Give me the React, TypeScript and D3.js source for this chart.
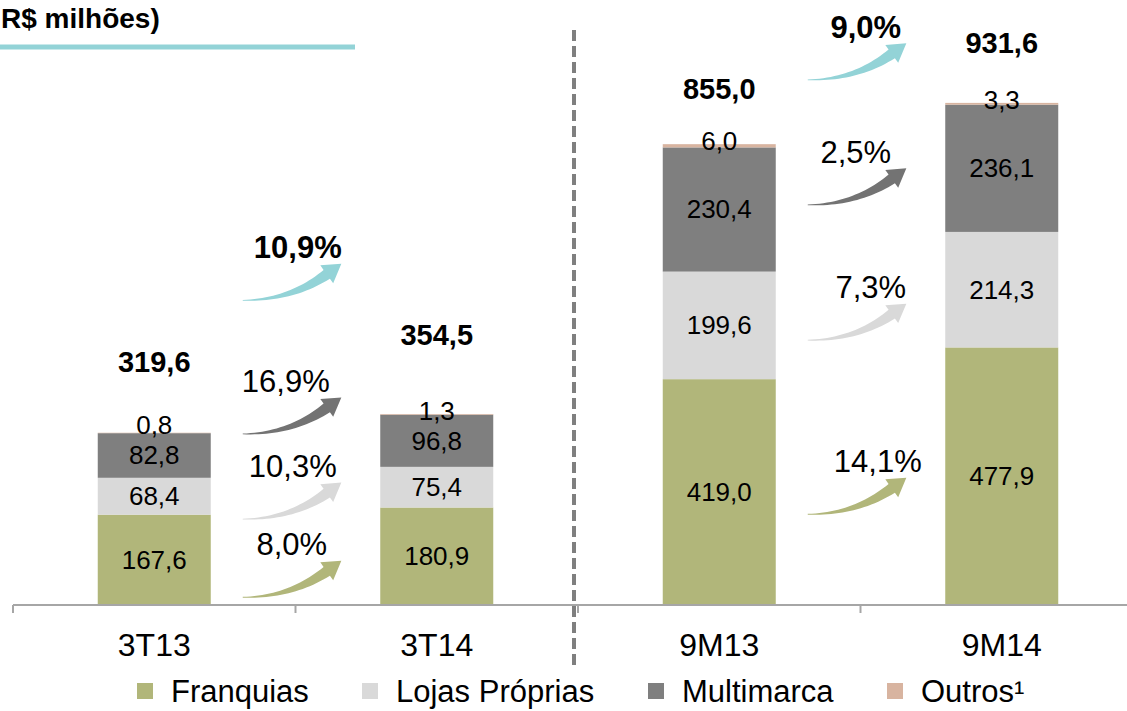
import React from "react";
import * as d3 from "d3";

// data
const categories = ["3T13", "3T14", "9M13", "9M14"];
const franquias = [167.6, 180.9, 419.0, 477.9];
const lojasProprias = [68.4, 75.4, 199.6, 214.3];
const multimarca = [82.8, 96.8, 230.4, 236.1];
const outros = [0.8, 1.3, 6.0, 3.3];
const totalLabels = ["319,6", "354,5", "855,0", "931,6"];
const totalLabelAt = [432, 482, 939, 1024];

const seriesNames = ["Franquias", "Lojas Próprias", "Multimarca", "Outros¹"];
const seriesColors = ["#b1b67a", "#d9d9d9", "#7f7f7f", "#d8b4a0"];
const teal = "#93d3d7";

// growth arrows: order franquias, lojas, multimarca, total
const growthLeft = ["8,0%", "10,3%", "16,9%", "10,9%"];
const growthRight = ["14,1%", "7,3%", "2,5%", "9,0%"];
const growthLeftAt = [83, 228, 386, 634];
const growthRightAt = [237, 560, 811, 1043];
const growthLeftDx = [49, 50, 43, 55];
const growthRightDx = [70, 63, 48, 58];
const arrowColors = ["#b1b67a", "#d9d9d9", "#737373", teal];

const W = 1127;
const H = 711;
const font = "'Liberation Sans', Arial, sans-serif";

function arrowPath(tx: number, ty: number) {
  // curved arrow, tail at (tx,ty), tip ~100px right and 37px up
  const p0 = [0, 0], p1 = [48, 0], p2 = [84, -26];
  const pts = (t: number) => {
    const u = 1 - t;
    const bx = u * u * p0[0] + 2 * u * t * p1[0] + t * t * p2[0];
    const by = u * u * p0[1] + 2 * u * t * p1[1] + t * t * p2[1];
    let dx = 2 * u * (p1[0] - p0[0]) + 2 * t * (p2[0] - p1[0]);
    let dy = 2 * u * (p1[1] - p0[1]) + 2 * t * (p2[1] - p1[1]);
    const l = Math.hypot(dx, dy);
    dx /= l; dy /= l;
    return { bx, by, nx: dy, ny: -dx };
  };
  const upper: string[] = [];
  const lower: string[] = [];
  const n = 24;
  for (let i = 0; i <= n; i++) {
    const t = i / n;
    const w = 0.4 + 5 * Math.pow(t, 1.2);
    const p = pts(t);
    upper.push(`${tx + p.bx + w * p.nx},${ty + p.by + w * p.ny}`);
    lower.push(`${tx + p.bx - w * p.nx},${ty + p.by - w * p.ny}`);
  }
  const e = pts(1);
  const dirx = -e.ny, diry = e.nx;
  const hl = 18, hw = 11;
  const wingU = `${tx + p2[0] + hw * e.nx},${ty + p2[1] + hw * e.ny}`;
  const wingL = `${tx + p2[0] - hw * e.nx},${ty + p2[1] - hw * e.ny}`;
  const tip = `${tx + p2[0] + hl * dirx},${ty + p2[1] + hl * diry}`;
  return "M" + upper.join("L") + "L" + wingU + "L" + tip + "L" + wingL + "L" + lower.reverse().join("L") + "Z";
}

export default function App() {
  const x = d3.scaleBand<string>().domain(categories).range([13, 1143]).paddingInner(0.6).paddingOuter(0.3);
  const y = d3.scaleLinear().domain([0, 1039]).range([605, 45]);
  const bw = x.bandwidth();

  const rows = categories.map((c, i) => ({
    cat: c,
    s0: franquias[i],
    s1: lojasProprias[i],
    s2: multimarca[i],
    s3: outros[i],
  }));
  const keys = ["s0", "s1", "s2", "s3"];
  const stacked = d3.stack<any>().keys(keys)(rows);

  const valueText = (v: number) => v.toFixed(1).replace(".", ",");

  const ticks = d3.range(5).map((k) => 13 + k * x.step());
  const divX = x("9M13")! - (x.step() * x.paddingInner()) / 2 - 4;

  const groups = [
    { at: 0, labels: growthLeft, vals: growthLeftAt, dx: growthLeftDx },
    { at: 2, labels: growthRight, vals: growthRightAt, dx: growthRightDx },
  ];

  const legendX = [137, 362, 648, 887];

  return (
    <svg width={W} height={H} style={{ position: "absolute", left: 0, top: 0 }} fontFamily={font}>
      <defs>
        <filter id="blur" x="-10%" y="-200%" width="120%" height="500%">
          <feGaussianBlur stdDeviation="1.5" />
        </filter>
      </defs>
      <rect width={W} height={H} fill="#fff" />

      {/* title */}
      <text x={1} y={28} fontSize={28} fontWeight="bold" fill="#000">R$ milhões)</text>
      <line x1={0} x2={356} y1={50} y2={50} stroke="#999" strokeWidth={4} filter="url(#blur)" opacity={0.7} />
      <line x1={0} x2={355} y1={47} y2={47} stroke={teal} strokeWidth={5} />

      {/* bars */}
      {stacked.map((layer, si) => (
        <g key={si} fill={seriesColors[si]}>
          {layer.map((d, i) => (
            <rect key={i} x={x(categories[i])} y={y(d[1])} width={bw} height={y(d[0]) - y(d[1])} />
          ))}
        </g>
      ))}
      {stacked.map((layer, si) => (
        <g key={"l" + si} fontSize={26} textAnchor="middle" fill="#000">
          {layer.map((d, i) => {
            let cy = (y(d[0]) + y(d[1])) / 2;
            if (si === 3) {
              const below = y(stacked[2][i][0]) - y(stacked[2][i][1]);
              cy = y(d[1]) - (below < 50 ? 8 : 3);
            }
            return (
              <text key={i} x={x(categories[i])! + bw / 2} y={cy + 9}>
                {valueText(d[1] - d[0])}
              </text>
            );
          })}
        </g>
      ))}

      {/* totals */}
      {totalLabels.map((t, i) => (
        <text key={i} x={x(categories[i])! + bw / 2} y={y(totalLabelAt[i])} textAnchor="middle" fontSize={29} fontWeight="bold">
          {t}
        </text>
      ))}

      {/* axis */}
      <line x1={13} x2={W} y1={605} y2={605} stroke="#a6a6a6" strokeWidth={2} />
      {ticks.map((t, i) => (
        <line key={i} x1={t} x2={t} y1={605} y2={613} stroke="#a6a6a6" strokeWidth={2} />
      ))}
      {categories.map((c) => (
        <text key={c} x={x(c)! + bw / 2} y={656} textAnchor="middle" fontSize={32}>{c}</text>
      ))}

      {/* divider */}
      <line x1={divX + 2} x2={divX + 2} y1={32} y2={667} stroke="#bbb" strokeWidth={4} strokeDasharray="11 5" filter="url(#blur)" opacity={0.6} />
      <line x1={divX} x2={divX} y1={30} y2={665} stroke="#7f7f7f" strokeWidth={4} strokeDasharray="11 5" />

      {/* growth arrows */}
      {groups.map((g, gi) => {
        const tx = x(categories[g.at])! + bw + 32;
        return (
          <g key={gi}>
            {g.vals.map((v, k) => {
              const tipY = y(v);
              return (
                <g key={k}>
                  <path d={arrowPath(tx, tipY + 37)} fill={arrowColors[k]} />
                  <text x={tx + g.dx[k]} y={tipY - 5} textAnchor="middle" fontSize={31} fontWeight={k === 3 ? "bold" : "normal"}>
                    {g.labels[k]}
                  </text>
                </g>
              );
            })}
          </g>
        );
      })}

      {/* legend */}
      {seriesNames.map((n, i) => (
        <g key={n}>
          <rect x={legendX[i]} y={683} width={16} height={16} fill={seriesColors[i]} />
          <text x={legendX[i] + 34} y={702} fontSize={31}>{n}</text>
        </g>
      ))}
    </svg>
  );
}
